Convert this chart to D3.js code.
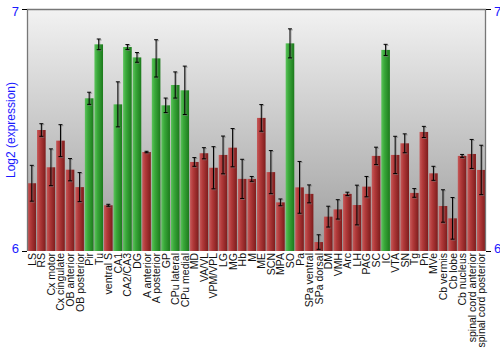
<!DOCTYPE html>
<html><head><meta charset="utf-8">
<script src="https://cdn.jsdelivr.net/npm/d3@7/dist/d3.min.js"></script>
<style>body{margin:0;background:#fff}svg{display:block;font-family:"Liberation Sans",Arial,sans-serif}</style>
</head><body>
<svg id="c" width="500" height="350"></svg>
<script>
const categories = ["LS","RS","Cx motor","Cx cingulate","OB anterior","OB posterior","Pir","Tu","ventral S","CA1","CA2/CA3","DG","A anterior","A posterior","GP","CPu lateral","CPu medial","MD","VA/VL","VPM/VPL","LG","MG","Hb","M","ME","SCN","MPA","SO","Pa","SPa ventral","SPa dorsal","DM","VMH","Arc","LH","PAG","SC","IC","VTA","SN","Tg","Pn","MVe","Cb vermis","Cb lobe","Cb nucleus","spinal cord anterior","spinal cord posterior"];
const values = [6.280,6.500,6.346,6.456,6.336,6.264,6.631,6.854,6.189,6.606,6.843,6.800,6.409,6.796,6.602,6.686,6.664,6.368,6.404,6.344,6.397,6.427,6.298,6.298,6.550,6.326,6.201,6.858,6.263,6.236,6.037,6.142,6.172,6.236,6.190,6.266,6.393,6.831,6.397,6.445,6.240,6.492,6.321,6.186,6.135,6.393,6.401,6.335];
const errors = [0.074,0.026,0.076,0.066,0.046,0.060,0.025,0.022,0.004,0.093,0.010,0.020,0.003,0.077,0.030,0.054,0.100,0.018,0.023,0.087,0.078,0.079,0.081,0.010,0.055,0.089,0.014,0.060,0.107,0.037,0.030,0.043,0.040,0.007,0.082,0.042,0.036,0.023,0.077,0.039,0.018,0.023,0.029,0.067,0.086,0.006,0.060,0.102];
const highlighted = ["Pir","Tu","CA1","CA2/CA3","DG","A posterior","GP","CPu lateral","CPu medial","SO","IC"];
const yTicks = [6,7];

const svg = d3.select("#c");
const L = 27, R = 486, T = 9, B = 251;
const x = d3.scaleBand().domain(categories).range([L, R]).paddingInner(0.1).paddingOuter(0.05);
const y = d3.scaleLinear().domain([6,7]).range([B, T]);

const defs = svg.append("defs");
const bg = defs.append("linearGradient").attr("id","bg").attr("x1",0).attr("y1",0).attr("x2",0).attr("y2",1);
bg.append("stop").attr("offset",0).attr("stop-color","#f2f2f2");
bg.append("stop").attr("offset",1).attr("stop-color","#9c9c9c");
function hg(id, c1, c2, c3){
  const g = defs.append("linearGradient").attr("id",id).attr("x1",0).attr("y1",0).attr("x2",1).attr("y2",0);
  g.append("stop").attr("offset",0).attr("stop-color",c1);
  g.append("stop").attr("offset",0.35).attr("stop-color",c2);
  g.append("stop").attr("offset",1).attr("stop-color",c3);
}
hg("red","#c65a5a","#b23a3a","#7e1c1c");
hg("green","#5cc45c","#3aa83a","#1c7a1c");

svg.append("rect").attr("x",L).attr("y",T).attr("width",R-L).attr("height",B-T).attr("fill","url(#bg)");

const g = svg.append("g");
g.selectAll("rect.bar").data(categories).join("rect").attr("class","bar")
  .attr("x", d => x(d)).attr("width", x.bandwidth())
  .attr("y", (d,i) => y(values[i])).attr("height", (d,i) => B - y(values[i]))
  .attr("fill", d => highlighted.includes(d) ? "url(#green)" : "url(#red)");

// error bars (shadow + black)
const eb = g.selectAll("g.eb").data(categories).join("g").attr("class","eb");
[["#777",1],["#000",0]].forEach(([col,off]) => {
  eb.append("line").attr("x1",d=>x(d)+x.bandwidth()/2+off).attr("x2",d=>x(d)+x.bandwidth()/2+off)
    .attr("y1",(d,i)=>y(values[i]+errors[i])+off).attr("y2",(d,i)=>y(values[i]-errors[i])+off)
    .attr("stroke",col).attr("stroke-width",1).attr("opacity", off?0.6:1);
  [1,-1].forEach(s => eb.append("line")
    .attr("x1",d=>x(d)+x.bandwidth()/2-2+off).attr("x2",d=>x(d)+x.bandwidth()/2+2+off)
    .attr("y1",(d,i)=>y(values[i]+s*errors[i])+off).attr("y2",(d,i)=>y(values[i]+s*errors[i])+off)
    .attr("stroke",col).attr("stroke-width",1).attr("opacity", off?0.6:1));
});

// frame
svg.append("path").attr("d",`M${L+0.5},${B}V${T+0.5}H${R-0.5}V${B}`).attr("fill","none").attr("stroke","#777").attr("stroke-width",1.3);

// axes
const yl = svg.append("g").attr("transform",`translate(${L},0)`).call(d3.axisLeft(y).tickValues(yTicks).tickFormat(d3.format("d")).tickSize(5).tickPadding(3));
const yr = svg.append("g").attr("transform",`translate(${R},0)`).call(d3.axisRight(y).tickValues(yTicks).tickFormat(d3.format("d")).tickSize(5).tickPadding(3));
[yl,yr].forEach(a => {
  a.select(".domain").remove();
  a.selectAll("text").attr("fill","#1a1aff").attr("font-size",13).attr("font-family","Liberation Sans, Arial, sans-serif");
  a.selectAll("line").attr("stroke","#000");
  a.selectAll(".tick").filter(d=>d===6).select("text").attr("dy","0.1em");
  a.selectAll(".tick").filter(d=>d===7).select("text").attr("dy","0.5em");
});

// x labels
svg.append("g").selectAll("text").data(categories).join("text")
  .attr("transform", d => `translate(${x(d)+x.bandwidth()/2+4},${B+2}) rotate(-90)`)
  .attr("text-anchor","end").attr("font-size",10.5).attr("fill","#111").text(d=>d);

// y title
svg.append("text").attr("transform",`translate(15,${(T+B)/2}) rotate(-90)`).attr("text-anchor","middle")
  .attr("font-size",12).attr("fill","#1a1aff").text("Log2 (expression)");
</script>
</body></html>
